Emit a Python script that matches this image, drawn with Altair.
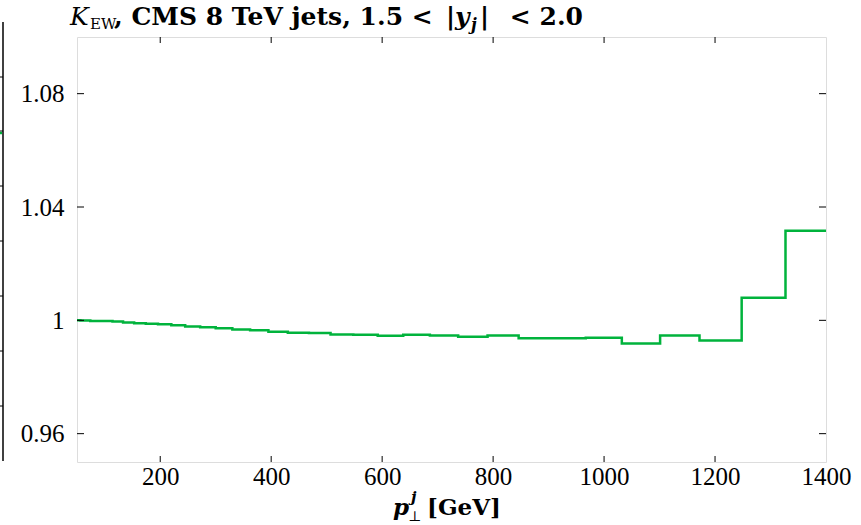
import altair as alt
import pandas as pd

# bin edges (GeV) and K_EW values per bin
edges = [49, 56, 64, 74, 84, 97, 114, 133, 153, 174, 196, 220, 245, 272, 300, 330,
         362, 395, 430, 468, 507, 548, 592, 638, 686, 737, 790, 846, 905, 967, 1032,
         1101, 1172, 1248, 1327, 1410]
kew = [1.0000, 0.9999, 0.9999, 0.9998, 0.9998, 0.9998, 0.99958, 0.99922, 0.99898,
       0.99880, 0.99862, 0.99827, 0.99781, 0.99757, 0.99722, 0.99675, 0.99650,
       0.99594, 0.99565, 0.99555, 0.99498, 0.99495, 0.99452, 0.99487, 0.99463,
       0.99417, 0.99463, 0.99368, 0.99365, 0.99385, 0.99180, 0.99463, 0.99286,
       1.00795, 1.0316]
y_ticks = [0.96, 1.0, 1.04, 1.08]
x_ticks = [200, 400, 600, 800, 1000, 1200, 1400]

W, H = 749, 425
FONT = "Liberation Serif"
TFONT = "DejaVu Serif"
GREEN = "#00b33c"

df = pd.DataFrame({"pt": edges, "k": kew + [kew[-1]]})
xs = alt.Scale(domain=[50, 1400], nice=False, zero=False)
ys = alt.Scale(domain=[0.95, 1.10], nice=False, zero=False)

line = alt.Chart(df).mark_line(interpolate="step-after", clip=True, color=GREEN,
                               strokeWidth=2.5).encode(
    x=alt.X("pt:Q", scale=xs,
            axis=alt.Axis(values=x_ticks, format="d", ticks=False, domain=False,
                          grid=False, labelFont=FONT, labelFontSize=25,
                          labelColor="black", labelPadding=2, title=None,
                          labelFlush=False)),
    y=alt.Y("k:Q", scale=ys,
            axis=alt.Axis(values=y_ticks, format=".2~f", ticks=False, domain=False,
                          grid=False, labelFont=FONT, labelFontSize=25,
                          labelColor="black", labelPadding=13, title=None)),
)

ydf = pd.DataFrame({"v": y_ticks})
xdf = pd.DataFrame({"v": x_ticks[:-1]})
tl = alt.Chart(ydf).mark_rule(color="black", strokeWidth=1).encode(
    y=alt.Y("v:Q", scale=ys), x=alt.value(0), x2=alt.value(7))
tr = alt.Chart(ydf).mark_rule(color="black", strokeWidth=1).encode(
    y=alt.Y("v:Q", scale=ys), x=alt.value(W - 7), x2=alt.value(W))
tt = alt.Chart(xdf).mark_rule(color="black", strokeWidth=1).encode(
    x=alt.X("v:Q", scale=xs), y=alt.value(0), y2=alt.value(6))
tb = alt.Chart(xdf).mark_rule(color="black", strokeWidth=1).encode(
    x=alt.X("v:Q", scale=xs), y=alt.value(H - 6), y2=alt.value(H))

# fragment of neighbouring panel at the left edge
nb_line = alt.Chart(pd.DataFrame({"a": [0]})).mark_rule(color="black", strokeWidth=1.5).encode(
    x=alt.value(-74), y=alt.value(-15), y2=alt.value(424))
nb_ticks = alt.Chart(pd.DataFrame({"p": [40, 94, 149, 204, 259, 314, 369]})).mark_rule(
    color="black", strokeWidth=1).encode(
    x=alt.value(-80), x2=alt.value(-74), y=alt.Y("p:Q", scale=None))
nb_green = alt.Chart(pd.DataFrame({"a": [0]})).mark_rule(color=GREEN, strokeWidth=2.5).encode(
    x=alt.value(-80), x2=alt.value(-75), y=alt.value(96))

def txt(s, x, y, size, weight="normal", style="normal", align="left", font=TFONT):
    return alt.Chart(pd.DataFrame({"a": [0]})).mark_text(
        text=s, font=font, fontSize=size, fontWeight=weight, fontStyle=style,
        align=align, baseline="alphabetic", color="black").encode(
        x=alt.value(x), y=alt.value(y))

# title pieces
title = [
    txt("K", -7, -12, 25, style="italic"),
    txt("EW", 13, -8, 15),
    txt(", CMS 8 TeV jets, 1.5 <", 37, -12, 25, weight="bold"),
    txt("|", 369, -12, 25, weight="bold"),
    txt("y", 378, -12, 25, weight="bold", style="italic"),
    txt("j", 394, -7, 16, weight="bold", style="italic"),
    txt("|", 403, -12, 25, weight="bold"),
    txt("< 2.0", 506, -12, 25, weight="bold", align="right"),
]
# x axis title pieces
xt = [
    txt("p", 316, 478, 23, weight="bold", style="italic"),
    txt("j", 334, 465, 15, weight="bold", style="italic"),
    txt("⊥", 331, 484, 14),
    txt("[GeV]", 350, 478, 23, weight="bold"),
]

chart = alt.layer(line, tl, tr, tt, tb, nb_line, nb_ticks, nb_green, *title, *xt).properties(
    width=W, height=H,
    autosize=alt.AutoSizeParams(type="none"),
    padding={"left": 77, "top": 37, "right": 35, "bottom": 63},
).configure_view(stroke="black", strokeWidth=1.5).configure(background="white")

chart.save("out.html", embed_options={"renderer": "svg", "actions": False})
